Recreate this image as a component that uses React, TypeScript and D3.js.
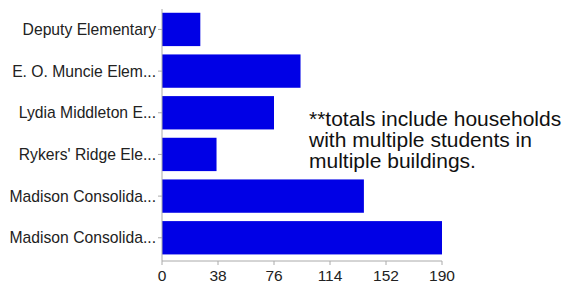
import React from 'react';
import * as d3 from 'd3';

const schools = [
  'Deputy Elementary',
  'E. O. Muncie Elem...',
  'Lydia Middleton E...',
  "Rykers' Ridge Ele...",
  'Madison Consolida...',
  'Madison Consolida...',
];
const households = [26, 94, 76, 37, 137, 190];
const xTicks = [0, 38, 76, 114, 152, 190];
const noteLines = ['**totals include households', 'with multiple students in', 'multiple buildings.'];

const W = 567;
const H = 285;

const App: React.FC = () => {
  const x = d3.scaleLinear().domain([0, 190]).range([162, 442]);
  const y = d3
    .scaleBand<number>()
    .domain(d3.range(schools.length))
    .range([8.6, 258.6])
    .paddingInner(0.2)
    .paddingOuter(0.1);
  const axisY = 261;
  const font = '"Liberation Sans", Arial, sans-serif';

  return (
    <svg
      width={W}
      height={H}
      style={{ position: 'absolute', left: 0, top: 0, background: '#fff' }}
      fontFamily={font}
    >
      {/* bars */}
      {households.map((v, i) => (
        <rect
          key={i}
          x={x(0)}
          y={y(i)}
          width={x(v) - x(0)}
          height={y.bandwidth()}
          fill="#0000e6"
        />
      ))}
      {/* y axis */}
      <line x1={x(0)} x2={x(0)} y1={9} y2={axisY} stroke="#aaa" />
      {schools.map((s, i) => {
        const cy = (y(i) as number) + y.bandwidth() / 2;
        return (
          <g key={i}>
            <line x1={x(0) - 4} x2={x(0)} y1={cy} y2={cy} stroke="#aaa" />
            <text x={x(0) - 6} y={cy} dy="0.35em" textAnchor="end" fontSize={15.7} fill="#222">
              {s}
            </text>
          </g>
        );
      })}
      {/* x axis */}
      <line x1={x(0)} x2={x(190)} y1={axisY} y2={axisY} stroke="#aaa" />
      {xTicks.map((t) => (
        <g key={t}>
          <line x1={x(t)} x2={x(t)} y1={axisY} y2={axisY + 4} stroke="#aaa" />
          <text x={x(t)} y={281} textAnchor="middle" fontSize={15.5} fill="#222">
            {t}
          </text>
        </g>
      ))}
      {/* note */}
      {noteLines.map((l, i) => (
        <text key={i} x={309} y={126 + i * 21} fontSize={21} fill="#111">
          {l}
        </text>
      ))}
    </svg>
  );
};

export default App;
